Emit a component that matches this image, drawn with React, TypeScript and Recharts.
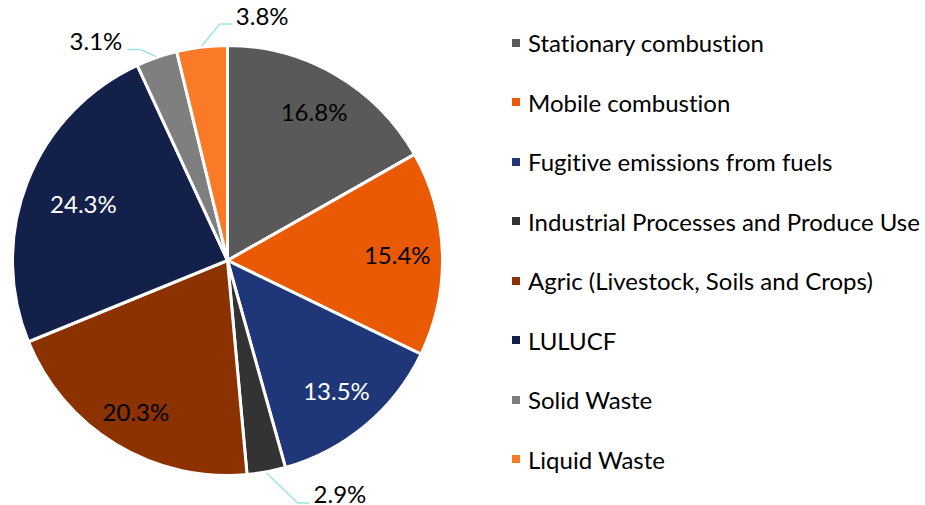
import { PieChart, Pie, Cell, Legend } from "recharts";

const categories = [
  "Stationary combustion",
  "Mobile combustion",
  "Fugitive emissions from fuels",
  "Industrial Processes and Produce Use",
  "Agric (Livestock, Soils and Crops)",
  "LULUCF",
  "Solid Waste",
  "Liquid Waste",
];
const shares = [16.8, 15.4, 13.5, 2.9, 20.3, 24.3, 3.1, 3.8];

const COLORS = ["#595959", "#EA5A05", "#1F3778", "#333333", "#8B3200", "#13204A", "#7F7F7F", "#FB7A27"];
const LABEL_COLORS = ["#000", "#000", "#fff", "#000", "#000", "#fff", "#000", "#000"];
const LEADER = "#9FE6DE";
const FONT = "Lato, 'Open Sans', sans-serif";

// small slices get an outside label with an elbow leader line
const OUTSIDE: Record<number, { ex: number; ey: number; run: number }> = {
  3: { ex: 31, ey: 30, run: 12 },
  6: { ex: -16, ey: -7, run: -13 },
  7: { ex: 18, ey: -22, run: 12 },
};
// inside labels sit at a fraction of the radius (excel "best fit" nudges a couple)
const LABEL_R: Record<number, number> = { 0: 0.8, 4: 0.82, 5: 0.72 };

const data = categories.map((name, i) => ({ name, value: shares[i] }));
const RADIAN = Math.PI / 180;
const noLiga = { fontVariantLigatures: "none" as const };

function renderLabel(props: any) {
  const { cx, cy, midAngle, outerRadius, index, value } = props;
  const text = `${Number(value).toFixed(1)}%`;
  const cos = Math.cos(-midAngle * RADIAN);
  const sin = Math.sin(-midAngle * RADIAN);
  const o = OUTSIDE[index];
  if (o) {
    const sx = cx + (outerRadius + 1) * cos;
    const sy = cy + (outerRadius + 1) * sin;
    const mx = sx + o.ex;
    const my = sy + o.ey;
    const tx = mx + o.run;
    return (
      <g key={`lbl-${index}`}>
        <polyline
          points={`${sx},${sy} ${mx},${my} ${tx},${my}`}
          fill="none"
          stroke={LEADER}
          strokeWidth={1.5}
        />
        <text
          x={tx + (o.run > 0 ? 4 : -5)}
          y={my - 9}
          textAnchor={o.run > 0 ? "start" : "end"}
          dominantBaseline="central"
          fontSize={24}
          fontFamily={FONT}
          fill="#000"
        >
          {text}
        </text>
      </g>
    );
  }
  const r = outerRadius * (LABEL_R[index] ?? 0.79);
  return (
    <text
      key={`lbl-${index}`}
      x={cx + r * cos}
      y={cy + r * sin}
      textAnchor="middle"
      dominantBaseline="central"
      fontSize={24}
      fontFamily={FONT}
      fill={LABEL_COLORS[index]}
    >
      {text}
    </text>
  );
}

function LegendList() {
  return (
    <div style={{ fontFamily: FONT, fontSize: 24, color: "#000", ...noLiga }}>
      {categories.map((c, i) => (
        <div
          key={c}
          style={{ height: 59.5, display: "flex", alignItems: "center", whiteSpace: "nowrap" }}
        >
          <span
            style={{
              display: "inline-block",
              width: 8,
              height: 8,
              background: COLORS[i],
              marginRight: 8,
            }}
          />
          {c}
        </div>
      ))}
    </div>
  );
}

export default function App() {
  return (
    <div style={{ position: "absolute", left: 0, top: 0, background: "#fff", ...noLiga }}>
      <PieChart width={925} height={505} margin={{ top: 0, right: 0, bottom: 0, left: 0 }}>
        <Pie
          data={data}
          dataKey="value"
          nameKey="name"
          cx={227.5}
          cy={260.5}
          outerRadius={215}
          startAngle={90}
          endAngle={-270}
          stroke="#fff"
          strokeWidth={3}
          label={renderLabel}
          labelLine={false}
          isAnimationActive={false}
        >
          {data.map((d, i) => (
            <Cell key={d.name} fill={COLORS[i]} />
          ))}
        </Pie>
        <Legend
          layout="vertical"
          content={() => <LegendList />}
          wrapperStyle={{ left: 512, top: 13, width: 413 }}
        />
      </PieChart>
    </div>
  );
}
